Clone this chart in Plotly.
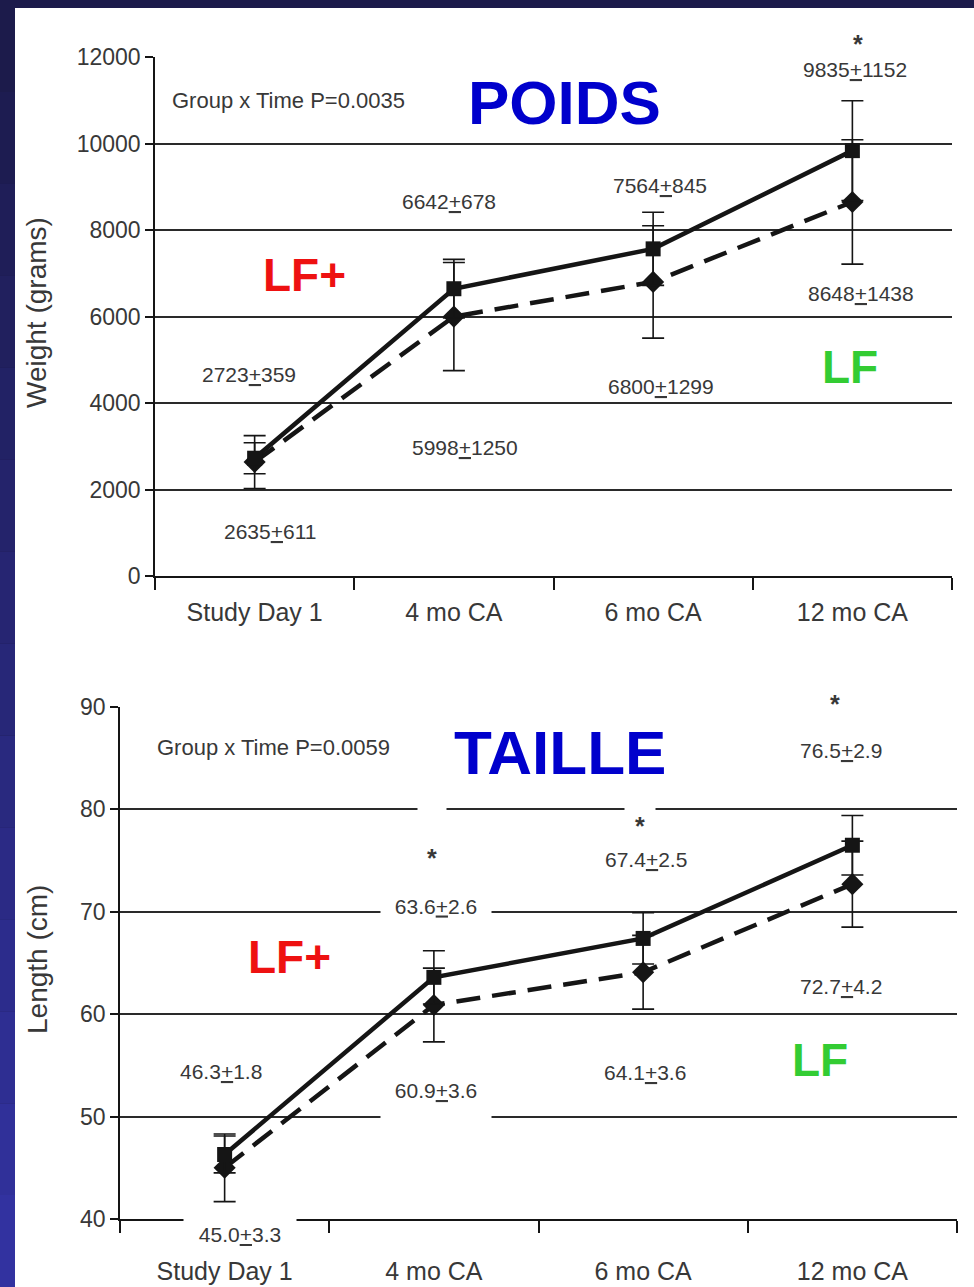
import plotly.graph_objects as go

# ---------------- data ----------------
categories = ["Study Day 1", "4 mo CA", "6 mo CA", "12 mo CA"]

weight_lfp = [2723, 6642, 7564, 9835]
weight_lfp_sd = [359, 678, 845, 1152]
weight_lf = [2635, 5998, 6800, 8648]
weight_lf_sd = [611, 1250, 1299, 1438]

length_lfp = [46.3, 63.6, 67.4, 76.5]
length_lfp_sd = [1.8, 2.6, 2.5, 2.9]
length_lf = [45.0, 60.9, 64.1, 72.7]
length_lf_sd = [3.3, 3.6, 3.6, 4.2]

weight_ticks = [0, 2000, 4000, 6000, 8000, 10000, 12000]
length_ticks = [40, 50, 60, 70, 80, 90]

weight_p = "Group x Time P=0.0035"
length_p = "Group x Time P=0.0059"

# ---------------- styles ----------------
W, H = 974, 1287
FONT = "Liberation Sans, Arial, sans-serif"
TXT = "#383838"
INK = "#151515"
GRID = "#2a2a2a"
VAL_SIZE = 21


def px_x(p):
    return p / W


def px_y(p):
    return 1 - p / H


fig = go.Figure()


def add_series(xaxis, yaxis, vals, sd, dash, symbol, msize):
    fig.add_trace(go.Scatter(
        x=categories, y=vals, xaxis=xaxis, yaxis=yaxis, mode="lines+markers",
        line=dict(color=INK, width=4.5, dash=dash),
        marker=dict(symbol=symbol, size=msize, color=INK),
        error_y=dict(type="data", array=sd, visible=True, color=INK,
                     thickness=1.6, width=11),
        showlegend=False, hoverinfo="skip"))


add_series("x", "y", weight_lf, weight_lf_sd, "24px,12px", "diamond", 17)
add_series("x", "y", weight_lfp, weight_lfp_sd, "solid", "square", 15)
add_series("x2", "y2", length_lf, length_lf_sd, "24px,12px", "diamond", 17)
add_series("x2", "y2", length_lfp, length_lfp_sd, "solid", "square", 15)

# ---------------- background panel ----------------
shapes = []
n = 14
top_c = (28, 27, 75)
bot_c = (50, 50, 160)
for i in range(n):
    t = i / (n - 1)
    c = tuple(int(top_c[k] + (bot_c[k] - top_c[k]) * t) for k in range(3))
    shapes.append(dict(type="rect", xref="paper", yref="paper", layer="below",
                       x0=0, x1=px_x(15), y0=1 - (i + 1) / n, y1=1 - i / n,
                       line=dict(width=0), fillcolor="rgb(%d,%d,%d)" % c))
shapes.append(dict(type="rect", xref="paper", yref="paper", layer="below",
                   x0=px_x(15), x1=1, y0=0, y1=px_y(8),
                   line=dict(width=0), fillcolor="white"))

# ---------------- annotations ----------------
ann = []


def fmt_w(v, s):
    return f"{v}<u>+</u>{s}"


def fmt_l(v, s):
    return f"{v:.1f}<u>+</u>{s:.1f}"


def lab(text, x, y, xref, yref, xshift=0, size=VAL_SIZE, **kw):
    d = dict(text=text, x=x, y=y, xref=xref, yref=yref, xshift=xshift,
             showarrow=False, font=dict(family=FONT, size=size, color=TXT))
    d.update(kw)
    ann.append(d)


STAR = "<b>*</b>"

# weight chart value labels (positions: category index, y in data units)
w_up_pos = [(0, 4650, -6), (1, 8650, -5), (2, 9040, 7), (3, 11700, 3)]
w_dn_pos = [(0, 1040, 15), (1, 2980, 11), (2, 4390, 8), (3, 6540, 9)]
for i, (cx, cy, sh) in enumerate(w_up_pos):
    lab(fmt_w(weight_lfp[i], weight_lfp_sd[i]), cx, cy, "x", "y", sh)
for i, (cx, cy, sh) in enumerate(w_dn_pos):
    lab(fmt_w(weight_lf[i], weight_lf_sd[i]), cx, cy, "x", "y", sh)
lab(STAR, 3, 12000, "x", "y", 6, size=25, yshift=13)
lab(weight_p, 0.019, 11000, "x domain", "y", 0, size=22, xanchor="left")

# length chart value labels
WB = "white"
lab(fmt_l(length_lfp[0], length_lfp_sd[0]), 0, 54.36, "x2", "y2", -4)
lab(fmt_l(length_lfp[1], length_lfp_sd[1]), 1, 70.6, "x2", "y2", 2,
    bgcolor=WB, width=108, height=30)
lab(fmt_l(length_lfp[2], length_lfp_sd[2]), 2, 75.06, "x2", "y2", 3)
lab(fmt_l(length_lfp[3], length_lfp_sd[3]), 3, 85.8, "x2", "y2", -11)
lab(fmt_l(length_lf[0], length_lf_sd[0]), 0, 40, "x2", "y2", 15,
    yshift=-8, bgcolor=WB, width=110, height=38, valign="bottom")
lab(fmt_l(length_lf[1], length_lf_sd[1]), 1, 51.43, "x2", "y2", 2,
    bgcolor=WB, width=108, height=46, valign="top")
lab(fmt_l(length_lf[2], length_lf_sd[2]), 2, 54.26, "x2", "y2", 2)
lab(fmt_l(length_lf[3], length_lf_sd[3]), 3, 62.75, "x2", "y2", -11)
lab(STAR, 3, 90, "x2", "y2", -17, size=25, yshift=3)
lab(STAR, 1, 77.7, "x2", "y2", -2, size=25, yshift=-6, bgcolor=WB, width=26,
    height=66, valign="bottom")
lab(STAR, 2, 79.35, "x2", "y2", -3, size=25, yshift=-6, bgcolor=WB, width=28,
    height=36, valign="bottom")
lab(length_p, 0.042, 86.0, "x2 domain", "y2", 0, size=22, xanchor="left")

# slide overlay titles
CM = dict(showarrow=False, xanchor="center", yanchor="middle")
big = dict(family=FONT, size=62, color="#0000cc")
ann.append(dict(CM, text="<b>POIDS</b>", x=0.514, y=0.913, xref="x domain",
                yref="y domain", font=big))
ann.append(dict(CM, text="<b>TAILLE</b>", x=0.526, y=0.912, xref="x2 domain",
                yref="y2 domain", font=big))
red = dict(family=FONT, size=46, color="#ee1111")
green = dict(family=FONT, size=46, color="#33cc33")
ann.append(dict(CM, text="<b>LF+</b>", x=0.188, y=0.580, xref="x domain",
                yref="y domain", font=red))
ann.append(dict(CM, text="<b>LF</b>", x=0.872, y=0.403, xref="x domain",
                yref="y domain", font=green))
ann.append(dict(CM, text="<b>LF+</b>", x=0.203, y=0.512, xref="x2 domain",
                yref="y2 domain", font=red))
ann.append(dict(CM, text="<b>LF</b>", x=0.836, y=0.311, xref="x2 domain",
                yref="y2 domain", font=green))

# axis titles
ann.append(dict(CM, text="Weight (grams)", x=px_x(37), y=px_y(313),
                xref="paper", yref="paper", textangle=-90,
                font=dict(family=FONT, size=28, color=TXT)))
ann.append(dict(CM, text="Length (cm)", x=px_x(37), y=px_y(960),
                xref="paper", yref="paper", textangle=-90,
                font=dict(family=FONT, size=28, color=TXT)))

# ---------------- axes ----------------
xcommon = dict(type="category", tickson="boundaries", range=[-0.5, 3.5],
               showline=True, linecolor=INK, linewidth=1.5, ticks="outside",
               ticklen=12, tickwidth=1.5, tickcolor=INK, showgrid=False,
               zeroline=False, automargin=False,
               tickfont=dict(family=FONT, size=25, color=TXT))
ycommon = dict(showline=True, linecolor=INK, linewidth=1.5, ticks="outside",
               ticklen=8, tickwidth=1.5, tickcolor=INK, showgrid=True,
               gridcolor=GRID, gridwidth=1.5, zeroline=False, automargin=False,
               tickfont=dict(family=FONT, size=23, color=TXT))

fig.update_layout(
    width=W, height=H, autosize=False,
    margin=dict(l=0, r=0, t=0, b=0, pad=0, autoexpand=False),
    paper_bgcolor="rgb(28,27,75)", plot_bgcolor="rgba(0,0,0,0)",
    shapes=shapes, annotations=ann,
    xaxis=dict(xcommon, domain=[px_x(155), px_x(952)], anchor="y",
               ticklabelstandoff=13),
    yaxis=dict(ycommon, domain=[px_y(576), px_y(57)], anchor="x",
               range=[0, 12000], tickvals=weight_ticks, tickformat="d"),
    xaxis2=dict(xcommon, domain=[px_x(120), px_x(957)], anchor="y2",
                ticklabelstandoff=29),
    yaxis2=dict(ycommon, domain=[px_y(1219), px_y(707)], anchor="x2",
                range=[40, 90], tickvals=length_ticks),
)

fig.write_html("out.html")
